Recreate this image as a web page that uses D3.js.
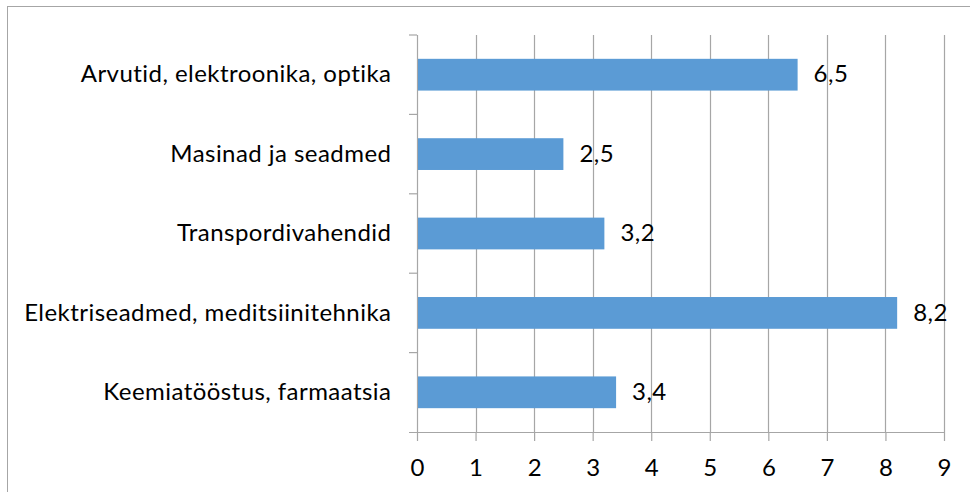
<!DOCTYPE html>
<html><head><meta charset="utf-8">
<script src="https://cdn.jsdelivr.net/npm/d3@7"></script>
<style>body{margin:0;background:#fff}svg{display:block}text{font-family:Lato,"Open Sans",sans-serif;fill:#000}</style>
</head><body><svg id="c" width="970" height="492"></svg>
<script>
const categories = ["Arvutid, elektroonika, optika","Masinad ja seadmed","Transpordivahendid","Elektriseadmed, meditsiinitehnika","Keemiatööstus, farmaatsia"];
const values = [6.5, 2.5, 3.2, 8.2, 3.4];
const valueLabels = ["6,5","2,5","3,2","8,2","3,4"];
const xTicks = [0,1,2,3,4,5,6,7,8,9];

(function(){
const svg = d3.select("#c");
const pLeft = 417, pRight = 944, pTop = 35, pBottom = 432;
const fs = 24, ls = 0.45;
// outer border
svg.append("rect").attr("x",7.5).attr("y",6.5).attr("width",1000).attr("height",1000)
  .attr("fill","none").attr("stroke","#a6a6a6").attr("stroke-width",1);

const x = d3.scaleLinear().domain([0,9]).range([pLeft,pRight]);
const y = d3.scaleBand().domain(categories).range([pTop,pBottom]).paddingInner(0.6).paddingOuter(0.3);
const band = (pBottom-pTop)/categories.length;

// gridlines
svg.append("g").selectAll("line").data(xTicks.slice(1)).join("line")
  .attr("x1",d=>Math.round(x(d))+0.5).attr("x2",d=>Math.round(x(d))+0.5)
  .attr("y1",pTop).attr("y2",pBottom).attr("stroke","#a6a6a6").attr("stroke-width",1.2);

// x axis
const xa = svg.append("g").attr("transform",`translate(0,${pBottom})`)
  .call(d3.axisBottom(x).tickValues(xTicks).tickSize(9).tickPadding(18).tickFormat(d3.format("d")));
xa.select(".domain").remove();
xa.selectAll("line").attr("stroke","#a6a6a6").attr("stroke-width",1.2);
xa.selectAll("text").attr("font-size",fs).attr("font-family","Lato").attr("fill","#000");
svg.append("line").attr("x1",pLeft-8).attr("x2",pRight).attr("y1",pBottom+0.5).attr("y2",pBottom+0.5)
  .attr("stroke","#a6a6a6").attr("stroke-width",1.2);

// y axis line + ticks
svg.append("line").attr("x1",pLeft+0.5).attr("x2",pLeft+0.5).attr("y1",pTop).attr("y2",pBottom)
  .attr("stroke","#a6a6a6").attr("stroke-width",1.2);
svg.append("g").selectAll("line").data(d3.range(categories.length)).join("line")
  .attr("x1",pLeft-8).attr("x2",pLeft).attr("y1",i=>pTop+i*band).attr("y2",i=>pTop+i*band)
  .attr("stroke","#a6a6a6").attr("stroke-width",1.2);

// category labels
svg.append("g").selectAll("text").data(categories).join("text")
  .attr("x",pLeft-26+ls).attr("y",d=>y(d)+y.bandwidth()/2).attr("dy","0.32em")
  .attr("text-anchor","end").attr("font-size",fs).attr("letter-spacing",ls).text(d=>d);

// bars
svg.append("g").selectAll("rect").data(values).join("rect")
  .attr("x",x(0)+1).attr("y",(d,i)=>y(categories[i]))
  .attr("width",d=>x(d)-x(0)-1).attr("height",y.bandwidth())
  .attr("fill","#5b9bd5");

// value labels
svg.append("g").selectAll("text").data(values).join("text")
  .attr("x",d=>x(d)+16).attr("y",(d,i)=>y(categories[i])+y.bandwidth()/2).attr("dy","0.32em")
  .attr("font-size",fs).attr("letter-spacing",ls).text((d,i)=>valueLabels[i]);
})();
</script></body></html>
